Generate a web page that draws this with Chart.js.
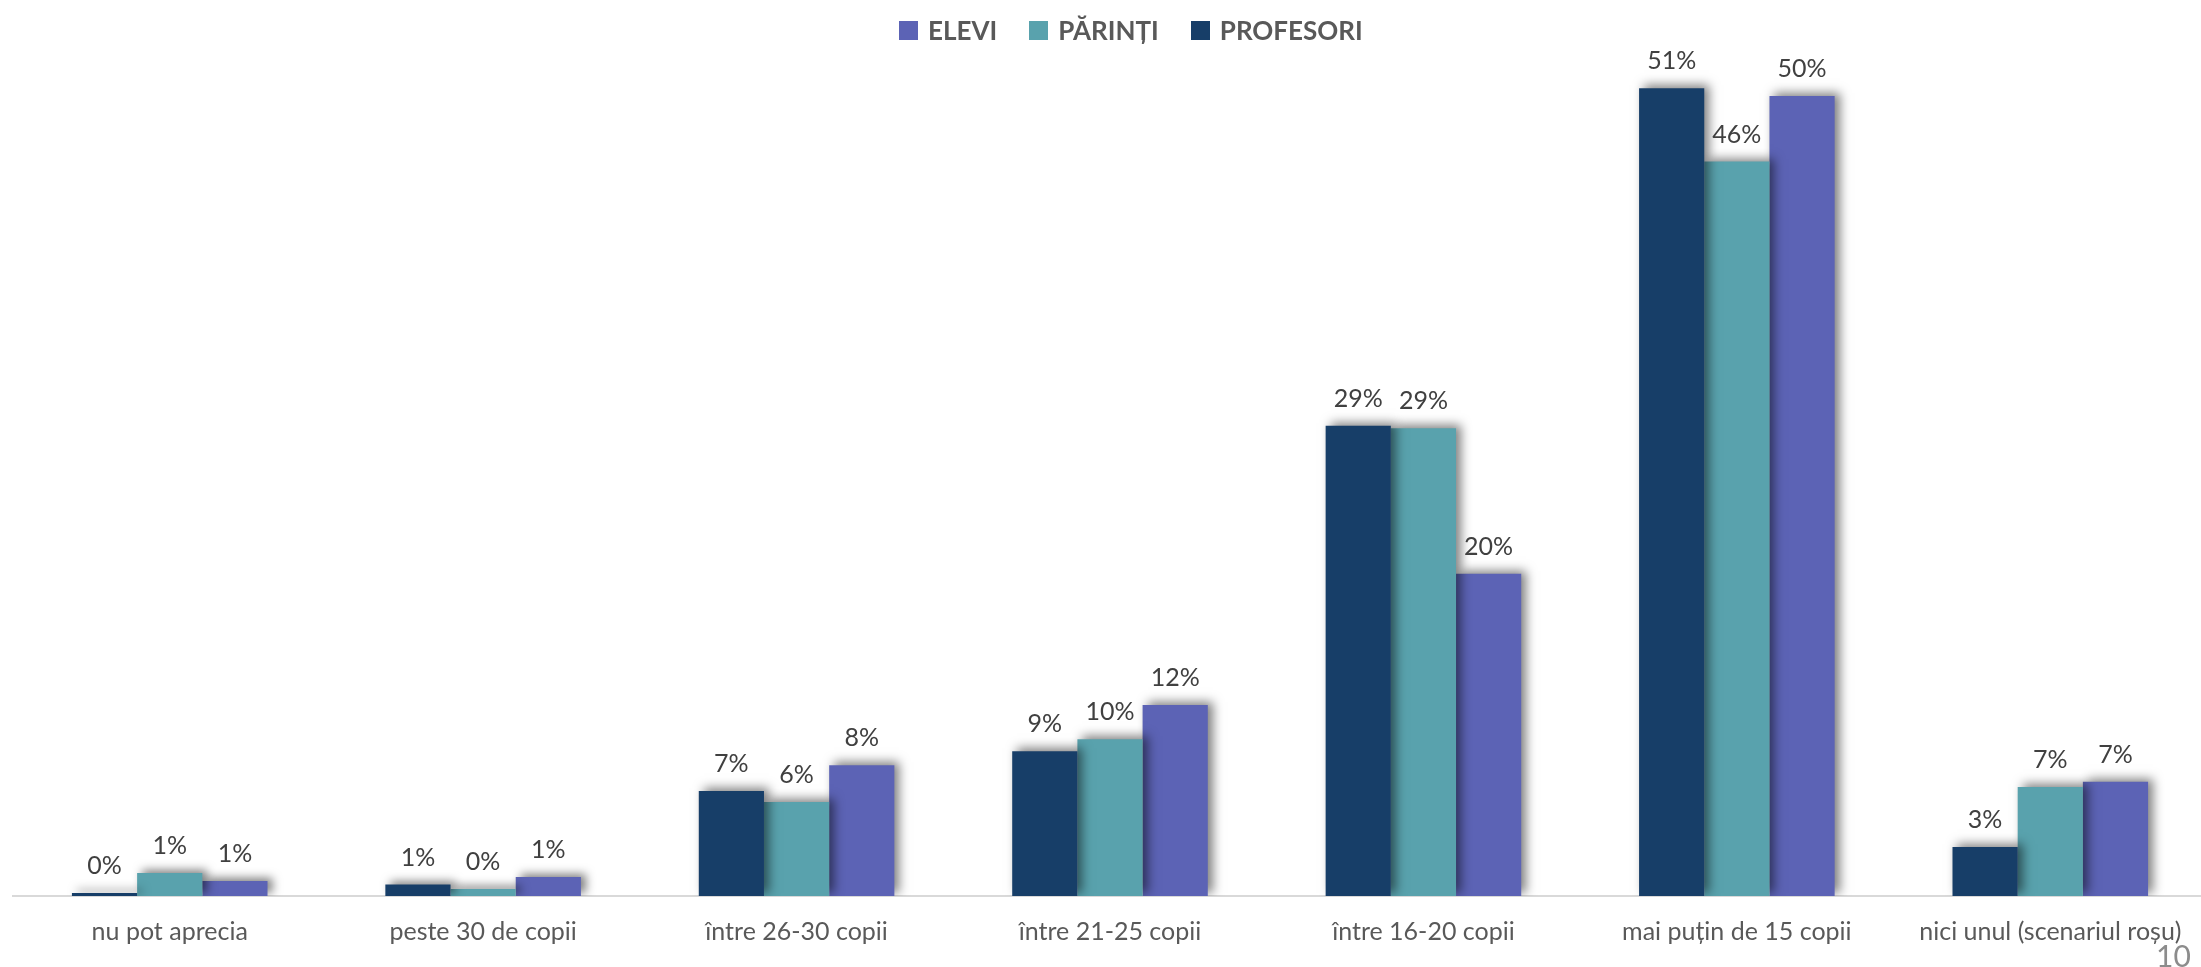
<!DOCTYPE html>
<html>
<head>
<meta charset="utf-8">
<script src="https://cdn.jsdelivr.net/npm/chart.js@4/dist/chart.umd.min.js"></script>
<style>
  html, body { margin: 0; padding: 0; background: #ffffff; overflow: hidden; }
  #wrap { position: relative; width: 2207px; height: 967px; }
  #pageNum { position: absolute; left: 2156px; top: 940px; font-family: Lato, "Noto Sans", sans-serif; font-size: 30px; color: #8c8c8c; line-height: 30px; }
  #legend { position: absolute; left: 899px; top: 15px; height: 30px; display: flex; align-items: center; font-family: Lato, "Noto Sans", sans-serif; font-weight: bold; font-size: 26px; color: #595959; white-space: nowrap; }
  .item { display: flex; align-items: center; margin-right: 32px; }
  .sw { width: 19px; height: 19px; margin-right: 10px; }
</style>
</head>
<body>
<div id="wrap">
  <canvas id="c" width="2207" height="967"></canvas>
  <div id="legend"></div>
  <div id="pageNum">10</div>
</div>
<script>
const categories = ["nu pot aprecia", "peste 30 de copii", "între 26-30 copii", "între 21-25 copii", "între 16-20 copii", "mai puțin de 15 copii", "nici unul (scenariul roșu)"];
const seriesNames = ["PROFESORI", "PĂRINȚI", "ELEVI"];
const profesori = [0.19, 0.72, 6.58, 9.07, 29.45, 50.6, 3.07];
const parinti   = [1.44, 0.44, 5.89, 9.82, 29.3, 46.0, 6.83];
const elevi     = [0.94, 1.19, 8.19, 11.96, 20.19, 50.1, 7.15];
const colors = ["#173E68", "#59A2AD", "#5C63B5"];

// HTML legend (reverse order, as in the reference)
const legendEl = document.getElementById('legend');
[2, 1, 0].forEach(i => {
  const it = document.createElement('div');
  it.className = 'item';
  const sw = document.createElement('div');
  sw.className = 'sw';
  sw.style.background = colors[i];
  const tx = document.createElement('span');
  tx.textContent = seriesNames[i];
  it.appendChild(sw); it.appendChild(tx);
  legendEl.appendChild(it);
});

const shadowPlugin = {
  id: 'barShadow',
  beforeDatasetDraw(chart) {
    const ctx = chart.ctx;
    ctx.save();
    ctx.shadowColor = 'rgba(0,0,0,0.5)';
    ctx.shadowBlur = 10;
    ctx.shadowOffsetX = 5;
    ctx.shadowOffsetY = -3;
  },
  afterDatasetDraw(chart) {
    chart.ctx.restore();
  }
};

const labelPlugin = {
  id: 'valueLabels',
  afterDatasetsDraw(chart) {
    const ctx = chart.ctx;
    ctx.save();
    ctx.font = '25px Lato, "Noto Sans", sans-serif';
    ctx.fillStyle = '#404040';
    ctx.textAlign = 'center';
    ctx.textBaseline = 'alphabetic';
    chart.data.datasets.forEach((ds, i) => {
      const meta = chart.getDatasetMeta(i);
      meta.data.forEach((bar, j) => {
        const txt = Math.round(ds.data[j]) + '%';
        ctx.fillText(txt, bar.x, bar.y - 19);
      });
    });
    ctx.restore();
  }
};

new Chart(document.getElementById('c'), {
  type: 'bar',
  data: {
    labels: categories,
    datasets: [
      { label: seriesNames[0], data: profesori, backgroundColor: colors[0] },
      { label: seriesNames[1], data: parinti, backgroundColor: colors[1] },
      { label: seriesNames[2], data: elevi, backgroundColor: colors[2] }
    ]
  },
  options: {
    responsive: false,
    animation: false,
    devicePixelRatio: 1,
    layout: { padding: { left: 13, right: 0, top: 53, bottom: 7 } },
    datasets: { bar: { categoryPercentage: 0.624, barPercentage: 1.0, borderWidth: 0 } },
    plugins: {
      legend: { display: false },
      tooltip: { enabled: false }
    },
    scales: {
      x: {
        grid: { display: false },
        border: { display: true, color: '#D9D9D9', width: 2 },
        ticks: {
          color: '#595959',
          padding: 13,
          maxRotation: 0,
          autoSkip: false,
          font: { family: 'Lato, "Noto Sans", sans-serif', size: 25 }
        }
      },
      y: {
        display: false,
        min: 0,
        max: 52.8
      }
    }
  },
  plugins: [shadowPlugin, labelPlugin]
});
</script>
</body>
</html>
